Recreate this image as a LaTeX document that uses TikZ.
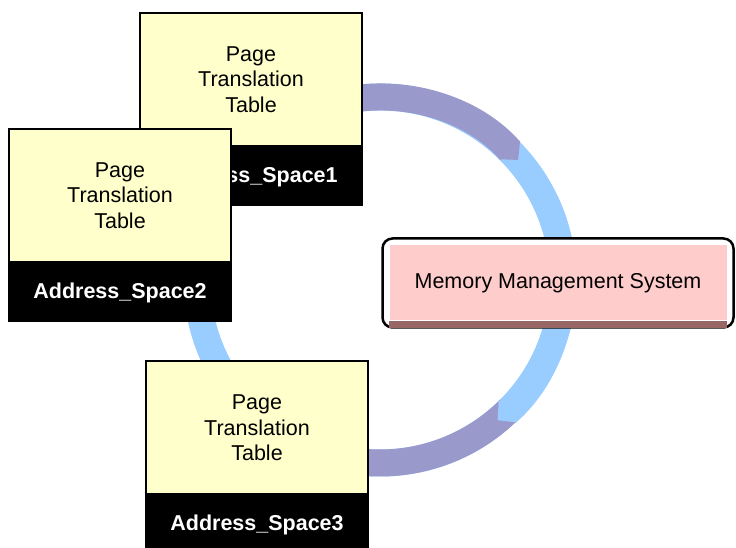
\documentclass[tikz,border=0pt]{standalone}
\usepackage{fontspec}
\setmainfont{Liberation Sans}
\usetikzlibrary{arrows.meta,calc,positioning}
\definecolor{ringpurple}{HTML}{9999CC}
\definecolor{ringblue}{HTML}{99CCFF}
\definecolor{tableyellow}{HTML}{FFFFCC}
\definecolor{mmspink}{HTML}{FFCCCC}
\definecolor{mmsshadow}{HTML}{996666}

\begin{document}
\begin{tikzpicture}[
      x=1pt, y=1pt,
      font=\fontsize{21.5}{25.5}\selectfont,
      ring/.style={line width=27pt},
      ringtip/.style={-{Triangle[length=13pt,width=27pt]}},
      ptable/.style={
        rectangle,
        draw=black,
        fill=tableyellow,
        line width=2pt,
        minimum width=222pt,
        minimum height=133pt,
        align=center,
        inner sep=0pt
      },
      aspace/.style={
        rectangle,
        draw=black,
        fill=black,
        line width=2pt,
        minimum width=222pt,
        minimum height=57pt,
        text=white,
        font=\fontsize{21.5}{25.5}\selectfont\bfseries,
        inner sep=0pt
      },
      mmsframe/.style={
        rectangle,
        rounded corners=10pt,
        draw=black,
        fill=white,
        line width=2.5pt,
        minimum width=351pt,
        minimum height=89pt
      },
      mms/.style={
        rectangle,
        fill=mmspink,
        minimum width=337pt,
        minimum height=75pt,
        inner sep=0pt
      }
    ]
      \useasboundingbox (0,0) rectangle (736,548);

      % ring
      \coordinate (c) at (380,268);
      \draw[ring, ringblue] (c) circle[radius=183pt];
      \draw[ring, ringpurple, ringtip] (c) ++(100:183pt) arc[start angle=100, end angle=41, radius=183pt];
      \draw[ring, ringpurple] (c) ++(-45:183pt) arc[start angle=-45, end angle=-100, radius=183pt];
      \draw[ring, ringblue, ringtip] (c) ++(0:183pt) arc[start angle=0, end angle=-50, radius=183pt];

      % memory management system
      \node (frame) at (558,265) [mmsframe]{};
      \node (mmsys) at (frame.center) [mms]{Memory Management System};
      \fill[mmsshadow] (mmsys.south west) rectangle ($(mmsys.south east)+(0,-7)$);

      % address spaces
      \node (pt1) at (251,468.5) [ptable]{Page\\Translation\\Table};
      \node (as1) [aspace, below=0pt of pt1]{Address\_Space1};

      \node (pt2) at (120,352.5) [ptable]{Page\\Translation\\Table};
      \node (as2) [aspace, below=0pt of pt2]{Address\_Space2};

      \node (pt3) at (257,120) [ptable]{Page\\Translation\\Table};
      \node (as3) [aspace, below=0pt of pt3]{Address\_Space3};

    \end{tikzpicture}
\end{document}
